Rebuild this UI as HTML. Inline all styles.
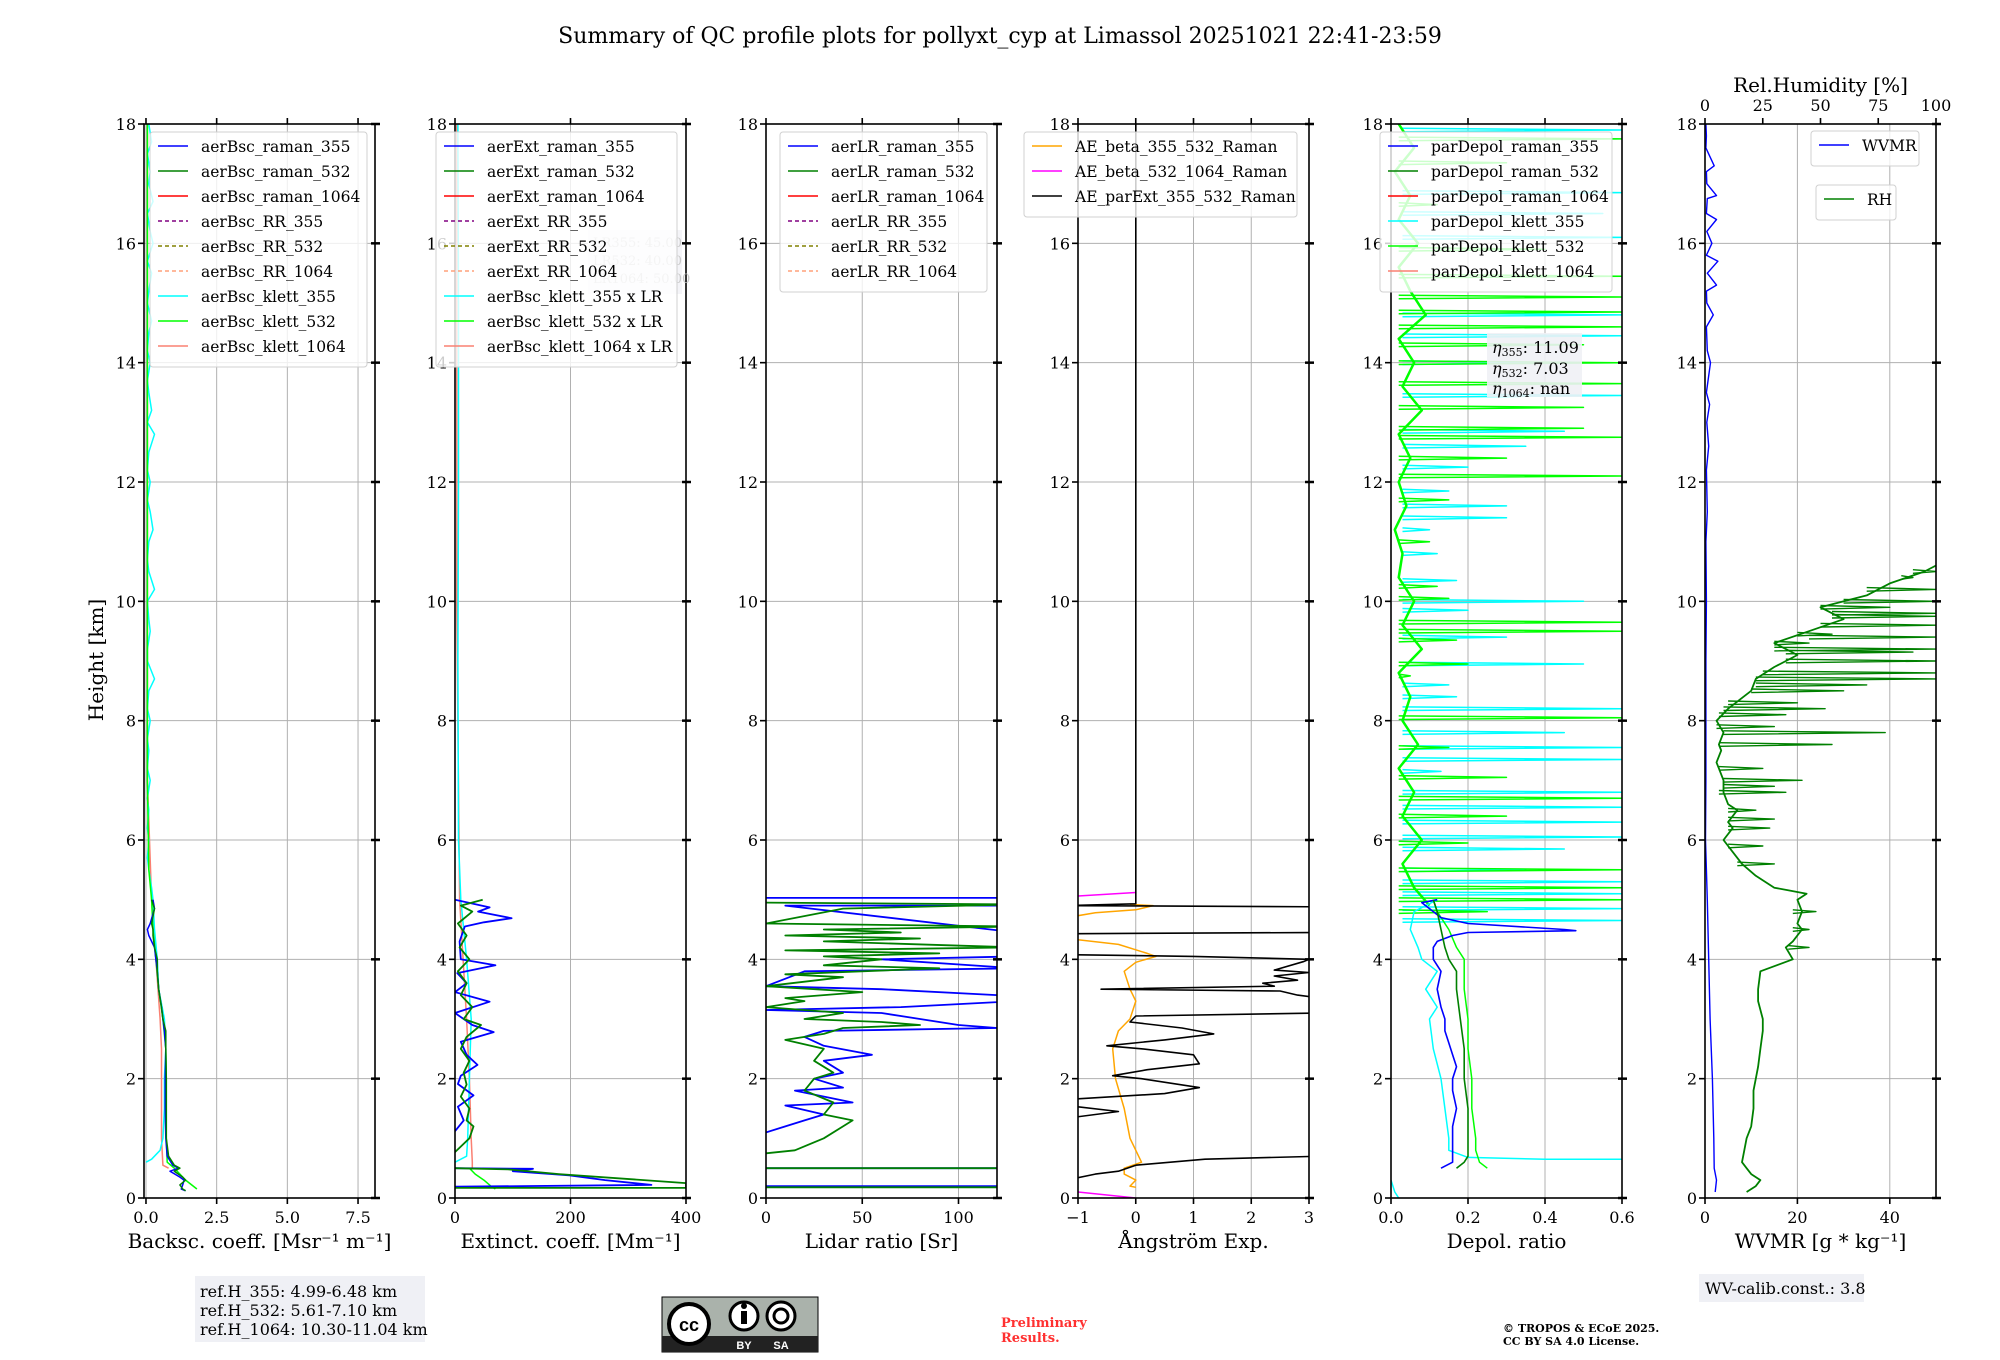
<!DOCTYPE html>
<html><head><meta charset="utf-8">
<style>
html,body{margin:0;padding:0;background:#fff;}
svg{display:block;font-family:"DejaVu Serif","Liberation Serif",serif;}
</style></head>
<body>
<svg id="fig" width="2000" height="1360" viewBox="0 0 2000 1360" xmlns="http://www.w3.org/2000/svg">
<text x="1000" y="43" font-size="22" text-anchor="middle" fill="#000">Summary of QC profile plots for pollyxt_cyp at Limassol 20251021 22:41-23:59</text>
<text transform="translate(103,660) rotate(-90)" font-size="20" text-anchor="middle">Height [km]</text>
<g id="panels"></g>
<g>
<rect x="195" y="1276" width="230" height="66" fill="#eff0f5"/>
<text x="200" y="1297" font-size="16">ref.H_355: 4.99-6.48 km</text>
<text x="200" y="1316" font-size="16">ref.H_532: 5.61-7.10 km</text>
<text x="200" y="1335" font-size="16">ref.H_1064: 10.30-11.04 km</text>
</g>
<g>
<rect x="662" y="1297" width="156" height="55" fill="#aab2ab" stroke="#000" stroke-width="1"/>
<rect x="662" y="1336" width="156" height="16" fill="#222"/>
<circle cx="689" cy="1324" r="20" fill="#fff" stroke="#000" stroke-width="4"/>
<text x="689" y="1331" font-size="18" font-weight="bold" text-anchor="middle" font-family="Liberation Sans,sans-serif">cc</text>
<circle cx="744" cy="1316" r="14" fill="#fff" stroke="#000" stroke-width="3"/>
<rect x="741" y="1311" width="6" height="13" fill="#000"/><circle cx="744" cy="1306" r="3" fill="#000"/>
<circle cx="781" cy="1316" r="14" fill="#fff" stroke="#000" stroke-width="3"/>
<circle cx="781" cy="1316" r="7" fill="none" stroke="#000" stroke-width="3"/>
<text x="744" y="1349" font-size="11" font-weight="bold" fill="#fff" text-anchor="middle" font-family="Liberation Sans,sans-serif">BY</text>
<text x="781" y="1349" font-size="11" font-weight="bold" fill="#fff" text-anchor="middle" font-family="Liberation Sans,sans-serif">SA</text>
</g>
<text x="1001" y="1327" font-size="13" font-weight="bold" fill="#ff3030">Preliminary</text>
<text x="1001" y="1342" font-size="13" font-weight="bold" fill="#ff3030">Results.</text>
<text x="1503" y="1332" font-size="11" font-weight="bold">© TROPOS &amp; ECoE 2025.</text>
<text x="1503" y="1345" font-size="11" font-weight="bold">CC BY SA 4.0 License.</text>
<g>
<rect x="1699" y="1274" width="165" height="28" fill="#eff0f5"/>
<text x="1705" y="1294" font-size="16">WV-calib.const.: 3.8</text>
</g>
</svg>
<script>
// ---------- data ----------
const yTicks=[0,2,4,6,8,10,12,14,16,18];
const bscTicks=[0,2.5,5,7.5];const bscTickLabels=["0.0","2.5","5.0","7.5"];
const extTicks=[0,200,400];const extTickLabels=["0","200","400"];
const lrTicks=[0,50,100];const lrTickLabels=["0","50","100"];
const aeTicks=[-1,0,1,2,3];const aeTickLabels=["\u22121","0","1","2","3"];
const dpTicks=[0,0.2,0.4,0.6];const dpTickLabels=["0.0","0.2","0.4","0.6"];
const wvTicks=[0,20,40];const wvTickLabels=["0","20","40"];
const rhTicks=[0,25,50,75,100];const rhTickLabels=["0","25","50","75","100"];

// panel 1 backscatter
const bscH355=[5.0,4.85,4.6,4.5,4.4,4.2,4.0,3.8,3.5,3.2,3.0,2.8,2.5,2.0,1.5,1.0,0.7,0.55,0.5,0.45,0.35,0.3,0.22,0.15,0.12];
const bscV355=[0.25,0.3,0.15,0.05,0.1,0.3,0.35,0.4,0.45,0.55,0.6,0.65,0.7,0.68,0.68,0.7,0.75,0.95,1.15,0.85,1.2,1.35,1.3,1.25,1.4];
const bscV532=[0.2,0.3,0.2,0.25,0.25,0.3,0.4,0.4,0.45,0.55,0.6,0.7,0.7,0.72,0.72,0.72,0.8,1.0,1.2,1.0,1.3,1.4,1.2,1.3,1.4];
const bscKH355=[18,17.7,17.5,17.2,17,16.7,16.5,16.2,16,15.7,15.5,15.2,15,14.7,14.5,14.2,14,13.7,13.5,13.2,13,12.8,12.5,12.2,12,11.7,11.5,11.2,11,10.7,10.5,10.2,10,9.7,9.5,9.2,9,8.7,8.5,8.2,8,7.7,7.5,7.2,7,6.7,6.5,6.2,6,5.7,5.5,5.2,5,4.5,4,3.5,3,2.5,2,1.5,1.0,0.8,0.65,0.6];
const bscKV355=[0.1,0.2,0.05,0.15,0.1,0.25,0.05,0.15,0.25,0.05,0.2,0.1,0.05,0.2,0.1,0.05,0.15,0.05,0.1,0.2,0.05,0.3,0.1,0.05,0.15,0.05,0.15,0.25,0.1,0.05,0.1,0.3,0.05,0.1,0.15,0.05,0.05,0.3,0.1,0.05,0.15,0.05,0.1,0.05,0.15,0.05,0.1,0.05,0.1,0.05,0.1,0.2,0.25,0.3,0.4,0.45,0.65,0.7,0.65,0.65,0.6,0.5,0.2,0.0];
const bscKH532=[18,15,12,9,7,5.5,5.0,4.5,4.0,3.5,3.0,2.5,2.0,1.0,0.6,0.5,0.3,0.15];
const bscKV532=[0.05,0.05,0.05,0.05,0.05,0.1,0.2,0.25,0.35,0.45,0.6,0.7,0.72,0.72,0.75,1.0,1.4,1.8];
const bscKH1064=[18,14,10,7,5,4,3,2.5,2,1.0,0.55,0.5];
const bscKV1064=[0.05,0.05,0.05,0.05,0.2,0.35,0.5,0.55,0.55,0.55,0.6,0.8];

// panel 2 extinction
const extH355=[5.0,4.87,4.8,4.69,4.62,4.55,4.3,4.0,3.9,3.77,3.6,3.45,3.29,3.1,2.9,2.78,2.62,2.4,2.23,2.05,1.91,1.72,1.53,1.3,1.12,NaN,0.5,0.49,0.45,0.38,0.3,0.22,0.19];
const extV355=[0,60,40,98,50,17,8,10,70,4,20,0,60,0,30,67,10,20,39,10,5,32,5,15,0,NaN,0,135,100,198,260,340,0];
const extH532=[5.0,4.9,4.8,4.6,4.4,4.2,4.0,3.8,3.6,3.4,3.2,3.0,2.9,2.7,2.5,2.3,2.1,1.9,1.7,1.5,1.3,1.2,1.0,0.77,NaN,0.5,0.48,0.4,0.25,0.2,0.17,0.17];
const extV532=[48,10,30,5,20,8,25,5,20,10,30,15,45,20,10,25,15,20,10,25,20,32,25,0,NaN,0,92,180,400,400,400,0];
const extKH355=[18,15,12,9,6,5,4,3,2,1,0.7,0.6];
const extKV355=[5,6,6,5,6,10,20,28,25,22,20,0];
const extKH532=[0.5,0.4,0.3,0.2,0.15];
const extKV532=[25,35,50,62,70];
const extKH1064=[18,10,5,3,2,1,0.6,0.5];
const extKV1064=[3,3,8,20,25,28,30,30];

// panel 3 lidar ratio
const lrH355=[5.03,5.03,4.9,4.9,4.45,4.43,4.05,4.0,3.85,3.8,3.55,3.5,3.4,3.3,3.2,3.15,3.1,3.0,2.9,2.85,2.8,2.7,2.55,2.4,2.3,2.1,2.0,1.85,1.8,1.6,1.55,1.4,1.3,1.2,1.1,NaN,0.5,0.5,NaN,0.2,0.2];
const lrV355=[0,130,130,10,130,130,130,60,130,20,0,60,120,130,70,0,60,80,100,120,30,20,30,55,30,40,25,40,15,45,10,30,20,10,0,NaN,0,130,NaN,0,130];
const lrH532=[4.95,4.92,4.85,4.6,4.55,4.5,4.45,4.4,4.35,4.3,4.2,4.15,4.1,4.05,4.0,3.9,3.85,3.75,3.7,3.55,3.45,3.35,3.3,3.2,3.1,3.0,2.95,2.9,2.85,2.75,2.65,2.5,2.3,2.1,2.0,1.8,1.6,1.4,1.3,1.2,1.0,0.8,0.75,NaN,0.5,0.5,0.45,NaN,0.18,0.18];
const lrV532=[0,130,40,0,130,30,70,10,80,30,130,10,90,30,60,30,90,10,40,0,50,10,20,0,40,20,60,80,40,30,10,30,25,35,25,20,35,30,45,40,30,15,0,NaN,0,130,130,NaN,0,130];

// panel 4 angstrom
const aeParH=[18,4.93,4.9,4.88,4.45,4.43,4.08,4.05,4.0,3.96,3.82,3.78,3.72,3.65,3.6,3.55,3.5,3.47,3.4,3.35,3.1,3.05,2.95,2.85,2.75,2.65,2.55,2.5,2.4,2.25,2.15,2.05,2.0,1.85,1.75,1.65,1.55,1.45,1.35,1.3,NaN,0.7,0.65,0.55,0.45,0.4,0.3];
const aeParV=[0,0,-1.2,3.2,3.2,-1.2,-1.2,1.0,3.0,2.9,2.4,3.0,2.4,2.8,2.2,2.4,-0.6,2.5,2.8,3.2,3.2,0.0,-0.1,0.8,1.35,0.5,-0.5,0.1,1.0,1.1,0.2,-0.4,0.1,1.1,0.5,-1.2,-1.2,-0.3,-1.1,-1.2,NaN,3.2,1.2,0.0,-0.3,-0.7,-1.2];
const aeB355H=[4.92,4.9,4.83,4.78,4.7,NaN,4.35,4.25,4.1,4.05,3.95,3.8,3.5,3.3,3.0,2.8,2.5,2.0,1.5,1.0,0.8,0.6,0.5,0.4,0.3,0.2,0.18];
const aeB355V=[-0.1,0.3,0.0,-0.7,-1.2,NaN,-1.2,-0.3,0.2,0.35,0.0,-0.2,-0.1,0.0,-0.1,-0.3,-0.4,-0.35,-0.2,-0.1,0.0,0.1,-0.2,-0.2,0.0,-0.1,0.0];
const aeB532H=[5.12,5.05,NaN,0.12,0.0];
const aeB532V=[0.0,-1.2,NaN,-1.2,0.0];

// panel 5 depol spikes (upper troposphere)
const dpK355SpikeH=[17.9,16.85,16.5,16.1,14.8,14.45,14.0,13.45,12.85,12.6,12.25,11.85,11.6,11.4,11.2,10.8,10.35,10.0,9.85,9.4,8.95,8.6,8.4,8.2,7.8,7.55,7.35,7.15,6.8,6.55,6.3,6.05,5.85,5.5,5.3,5.1,4.85,4.65];
const dpK355SpikeV=[0.6,0.6,0.55,0.6,0.6,0.6,0.45,0.6,0.45,0.35,0.2,0.15,0.3,0.3,0.1,0.12,0.17,0.5,0.2,0.3,0.5,0.15,0.17,0.6,0.45,0.6,0.6,0.13,0.6,0.6,0.6,0.6,0.45,0.35,0.6,0.6,0.6,0.6];
const dpK532SpikeH=[17.75,17.35,16.65,15.9,15.45,15.1,14.85,14.6,14.3,14.0,13.65,13.25,12.9,12.75,12.4,12.1,11.7,11.0,10.25,10.05,9.65,9.5,9.35,8.95,8.75,8.05,7.55,7.05,6.7,6.4,5.95,5.5,5.2,5.0,4.8];
const dpK532SpikeV=[0.6,0.3,0.12,0.4,0.6,0.6,0.6,0.6,0.5,0.6,0.6,0.5,0.5,0.6,0.3,0.6,0.15,0.1,0.12,0.15,0.6,0.6,0.17,0.2,0.05,0.6,0.15,0.3,0.6,0.3,0.2,0.6,0.6,0.6,0.25];
const dpK532BaseH=[18,17.6,17.2,16.8,16.4,16,15.6,15.2,14.8,14.4,14,13.6,13.2,12.8,12.4,12,11.6,11.2,10.8,10.4,10,9.6,9.2,8.8,8.4,8,7.6,7.2,6.8,6.4,6,5.6,5.2,4.9];
const dpK532BaseV=[0.02,0.06,0.01,0.05,0.02,0.07,0.02,0.05,0.09,0.02,0.06,0.03,0.08,0.02,0.05,0.02,0.04,0.01,0.03,0.02,0.06,0.03,0.08,0.02,0.05,0.03,0.07,0.02,0.06,0.03,0.08,0.03,0.06,0.1];
const dpR355H=[5.0,4.95,4.8,4.7,4.6,4.5,4.48,4.45,4.4,4.3,4.2,4.0,3.8,3.5,3.2,3.0,2.8,2.6,2.4,2.2,2.0,1.8,1.5,1.2,1.0,0.8,0.6,0.5];
const dpR355V=[0.12,0.08,0.11,0.13,0.2,0.45,0.48,0.2,0.16,0.12,0.11,0.11,0.13,0.12,0.13,0.14,0.14,0.15,0.16,0.17,0.16,0.16,0.17,0.16,0.16,0.16,0.16,0.13];
const dpR532H=[5.0,4.8,4.5,4.2,4.0,3.8,3.5,3.0,2.5,2.0,1.5,1.0,0.7,0.6,0.5];
const dpR532V=[0.11,0.12,0.13,0.14,0.15,0.17,0.17,0.18,0.19,0.19,0.2,0.2,0.2,0.19,0.17];
const dpK355H=[5.0,4.8,4.5,4.2,4.0,3.8,3.5,3.2,3.0,2.5,2.0,1.5,1.0,0.8,0.68,0.65,0.65,NaN,0.3,0.1,0.0];
const dpK355V=[0.12,0.06,0.05,0.07,0.08,0.12,0.09,0.12,0.1,0.11,0.13,0.14,0.15,0.15,0.2,0.4,0.6,NaN,0.0,0.01,0.02];
const dpK532H=[5.0,4.8,4.5,4.2,4.0,3.5,3.0,2.5,2.0,1.5,1.0,0.8,0.6,0.5];
const dpK532V=[0.11,0.12,0.15,0.17,0.19,0.19,0.2,0.2,0.21,0.21,0.22,0.22,0.23,0.25];

// panel 6 water vapour
const wvH=[18,17.8,17.6,17.3,17.2,17.0,16.8,16.75,16.5,16.4,16.2,16.0,15.8,15.7,15.5,15.3,15.2,15.0,14.8,14.6,14.2,14.0,13.5,13.3,13.0,12.6,12.2,11.5,11.0,10.0,9.0,8.0,7.0,6.0,5.0,4.0,3.0,2.0,1.0,0.5,0.3,0.1];
const wvV=[0.2,0.3,0.2,2.0,0.3,0.4,2.5,0.5,0.3,2.5,0.4,1.5,0.3,2.8,0.5,2.5,0.3,0.4,1.8,0.3,0.5,1.2,0.3,1.0,0.4,0.8,0.3,0.5,0.2,0.3,0.2,0.2,0.2,0.1,0.5,0.8,1.1,1.6,1.9,2.0,2.5,2.2];
const rhH=[0.1,0.2,0.3,0.4,0.5,0.6,0.8,1.0,1.2,1.5,1.8,2.0,2.2,2.5,2.8,3.0,3.3,3.5,3.8,4.0,4.2,4.3,4.5,4.6,4.8,5.0,5.1,5.2,5.4,5.6,5.8,6.0,6.2,6.3,6.5,6.6,6.8,7.0,7.2,7.3,7.5,7.6,7.8,8.0,8.2,8.5,8.7,8.9,9.1,9.3,9.5,9.7,9.9,10.1,10.3,10.5,10.6];
const rhV=[18,22,24,20,18,16,17,18,20,21,21,22,23,24,25,25,23,23,24,38,35,38,42,40,42,40,44,30,22,16,12,8,12,10,14,10,8,8,6,5,7,6,8,5,10,20,22,30,40,30,45,60,50,70,80,95,100];
const rhSpikeH=[7.8,7.6,7.0,6.8,6.5,6.2,8.2,8.5,8.7,8.8,9.0,9.2,9.4,9.6,9.8,10.0,10.2,10.5,9.3,8.1,9.45,4.8,4.5,4.2,8.3,8.6,9.15,7.9,7.2,6.9,6.35,5.9,5.6,9.75,9.9,10.4];
const rhSpikeV=[78,55,42,35,22,28,52,60,100,100,100,100,100,100,100,100,100,100,45,35,55,48,45,45,40,70,90,30,25,30,30,25,30,100,80,90];
const rhSpikeBase=[8,6,8,6,10,10,8,20,22,25,35,30,45,50,55,60,70,90,30,6,40,38,38,36,10,22,35,5,6,8,10,10,14,55,50,85];

// ---------- drawing ----------
const NS="http://www.w3.org/2000/svg";
const svg=document.getElementById('fig');
const panelsG=document.getElementById('panels');
const TOP=124,BOT=1198,W=231;
const lefts=[144,455,766,1078,1391,1705];
const xlims=[[-0.07,8.1],[0,400],[0,120],[-1,3],[0,0.6],[0,50]];
function mk(tag,attrs,parent){const e=document.createElementNS(NS,tag);for(const k in attrs)e.setAttribute(k,attrs[k]);(parent||svg).appendChild(e);return e;}
function yS(h){return BOT-(h/18)*(BOT-TOP);}
function xS(p,v){const l=xlims[p];return lefts[p]+(v-l[0])/(l[1]-l[0])*W;}
function pathD(p,hs,vs,xf){let d="",pen=false;for(let i=0;i<hs.length;i++){if(isNaN(hs[i])||isNaN(vs[i])){pen=false;continue;}const x=xf?xf(vs[i]):xS(p,vs[i]);d+=(pen?"L":"M")+x.toFixed(1)+" "+yS(hs[i]).toFixed(1);pen=true;}return d;}
function series(g,p,hs,vs,color,w,name,xf){const e=mk('path',{d:pathD(p,hs,vs,xf),fill:'none',stroke:color,'stroke-width':w,'stroke-linejoin':'round','clip-path':'url(#clip'+p+')'},g);


return e;}
function spikes(g,p,hs,vs,base,color,w,name,xf){let H=[],V=[];for(let i=0;i<hs.length;i++){const b=Array.isArray(base)?base[i]:base;H.push(hs[i]+0.03,hs[i],hs[i]-0.03,NaN);V.push(b,vs[i],b,NaN);}return series(g,p,H,V,color,w,name,xf);}

const defs=mk('defs',{});
const xTickSets=[[bscTicks,bscTickLabels],[extTicks,extTickLabels],[lrTicks,lrTickLabels],[aeTicks,aeTickLabels],[dpTicks,dpTickLabels],[wvTicks,wvTickLabels]];
const xTitles=["Backsc. coeff. [Msr\u207B\u00B9 m\u207B\u00B9]","Extinct. coeff. [Mm\u207B\u00B9]","Lidar ratio [Sr]","\u00C5ngstr\u00F6m Exp.","Depol. ratio","WVMR [g * kg\u207B\u00B9]"];
const panelNames=["backscatter-panel","extinction-panel","lidar-ratio-panel","angstrom-panel","depol-panel","water-vapor-panel"];
const G=[];
for(let p=0;p<6;p++){
  const cp=mk('clipPath',{id:'clip'+p},defs);mk('rect',{x:lefts[p],y:TOP,width:W,height:BOT-TOP},cp);
  const g=mk('g',{},panelsG);
  
  
  G.push(g);
  const grid=mk('g',{stroke:'#b0b0b0','stroke-width':1},g);
  
  
  for(const t of yTicks){mk('line',{x1:lefts[p],x2:lefts[p]+W,y1:yS(t),y2:yS(t)},grid);}
  for(const t of xTickSets[p][0]){const x=xS(p,t);mk('line',{x1:x,x2:x,y1:TOP,y2:BOT},grid);}
}
function frame(p){
  const g=G[p];
  const ax=mk('g',{stroke:'#000','stroke-width':1.6,fill:'none'},g);
  
  
  mk('rect',{x:lefts[p],y:TOP,width:W,height:BOT-TOP},ax);
  const lab=mk('g',{'font-size':16,fill:'#000'},g);
  
  
  for(const t of yTicks){const y=yS(t);
    mk('line',{x1:lefts[p]-6,x2:lefts[p],y1:y,y2:y},ax);
    mk('line',{x1:lefts[p]+W-4,x2:lefts[p]+W+5,y1:y,y2:y,'stroke-width':2.5},ax);
    const tx=mk('text',{x:lefts[p]-8,y:y+6,'text-anchor':'end'},lab);tx.textContent=t;}
  const ts=xTickSets[p];
  ts[0].forEach((t,i)=>{const x=xS(p,t);
    mk('line',{x1:x,x2:x,y1:BOT,y2:BOT+6},ax);
    if(p<5)mk('line',{x1:x,x2:x,y1:TOP,y2:TOP-6},ax);
    const tx=mk('text',{x:x,y:BOT+25,'text-anchor':'middle'},lab);tx.textContent=ts[1][i];});
  const xt=mk('text',{x:lefts[p]+W/2,y:BOT+50,'text-anchor':'middle','font-size':20},g);
  
  
  xt.textContent=xTitles[p];
}
function legend(p,x,y,w,entries,spacing,name){
  const g=mk('g',{},G[p]);
  
  
  mk('rect',{x:x,y:y,width:w,height:entries.length*spacing+10,rx:3,fill:'rgba(255,255,255,0.8)',stroke:'#d0d0d0'},g);
  entries.forEach((e,i)=>{const yy=y+14+i*spacing;
    const ln=mk('line',{x1:x+8,x2:x+38,y1:yy,y2:yy,stroke:e[1],'stroke-width':e[2]||1.6},g);
    if(e[3])ln.setAttribute('stroke-dasharray','4 3');
    const t=mk('text',{x:x+51,y:yy+6,'font-size':15.5},g);t.textContent=e[0];
  });
}
// panel 1
{const g=G[0];
series(g,0,bscKH1064,bscKV1064,'#fa8072',1.5,'aerBsc-klett-1064-line');
series(g,0,bscKH355,bscKV355,'#00ffff',1.5,'aerBsc-klett-355-line');
series(g,0,bscKH532,bscKV532,'#00ff00',1.5,'aerBsc-klett-532-line');
series(g,0,bscH355,bscV355,'#0000ff',1.5,'aerBsc-raman-355-line');
series(g,0,bscH355,bscV532,'#008000',1.5,'aerBsc-raman-532-line');
frame(0);
legend(0,150,132,217,[["aerBsc_raman_355","#0000ff"],["aerBsc_raman_532","#008000"],["aerBsc_raman_1064","#ff0000"],["aerBsc_RR_355","#800080",1.6,1],["aerBsc_RR_532","#808000",1.6,1],["aerBsc_RR_1064","#ffa07a",1.6,1],["aerBsc_klett_355","#00ffff"],["aerBsc_klett_532","#00ff00"],["aerBsc_klett_1064","#fa8072"]],25,'backscatter-legend');}
// panel 2
{const g=G[1];
series(g,1,extKH1064,extKV1064,'#fa8072',1.5,'aerBsc-klett-1064-x-lr-line');
series(g,1,extKH355,extKV355,'#00ffff',1.5,'aerBsc-klett-355-x-lr-line');
series(g,1,extKH532,extKV532,'#00ff00',1.5,'aerBsc-klett-532-x-lr-line');
series(g,1,extH355,extV355,'#0000ff',1.8,'aerExt-raman-355-line');
series(g,1,extH532,extV532,'#008000',1.8,'aerExt-raman-532-line');
frame(1);
const lb=mk('g',{fill:'#c8c8c8','font-size':13},g);


mk('rect',{x:588,y:230,width:94,height:64,fill:'#f4f4f8'},lb);
[["LR355: 45.00",247],["LR532: 40.00",265],["LR1064: 50.00",283]].forEach(a=>{const t=mk('text',{x:593,y:a[1]},lb);t.textContent=a[0];});
legend(1,436,132,241,[["aerExt_raman_355","#0000ff"],["aerExt_raman_532","#008000"],["aerExt_raman_1064","#ff0000"],["aerExt_RR_355","#800080",1.6,1],["aerExt_RR_532","#808000",1.6,1],["aerExt_RR_1064","#ffa07a",1.6,1],["aerBsc_klett_355 x LR","#00ffff"],["aerBsc_klett_532 x LR","#00ff00"],["aerBsc_klett_1064 x LR","#fa8072"]],25,'extinction-legend');}
// panel 3
{const g=G[2];
series(g,2,lrH355,lrV355,'#0000ff',1.8,'aerLR-raman-355-line');
series(g,2,lrH532,lrV532,'#008000',1.8,'aerLR-raman-532-line');
frame(2);
legend(2,780,132,207,[["aerLR_raman_355","#0000ff"],["aerLR_raman_532","#008000"],["aerLR_raman_1064","#ff0000"],["aerLR_RR_355","#800080",1.6,1],["aerLR_RR_532","#808000",1.6,1],["aerLR_RR_1064","#ffa07a",1.6,1]],25,'lidar-ratio-legend');}
// panel 4
{const g=G[3];
series(g,3,aeB532H,aeB532V,'#ff00ff',1.5,'ae-beta-532-1064-line');
series(g,3,aeB355H,aeB355V,'#ffa500',1.5,'ae-beta-355-532-line');
series(g,3,aeParH,aeParV,'#000000',1.6,'ae-parext-355-532-line');
frame(3);
legend(3,1024,132,273,[["AE_beta_355_532_Raman","#ffa500"],["AE_beta_532_1064_Raman","#ff00ff"],["AE_parExt_355_532_Raman","#000000"]],25,'angstrom-legend');}
// panel 5
{const g=G[4];
spikes(g,4,dpK355SpikeH,dpK355SpikeV,0.03,'#00ffff',1.5,'parDepol-klett-355-spikes');
series(g,4,dpK532BaseH,dpK532BaseV,'#00ff00',2.5,'parDepol-klett-532-baseline');
spikes(g,4,dpK532SpikeH,dpK532SpikeV,0.02,'#00ff00',1.5,'parDepol-klett-532-spikes');
series(g,4,dpK355H,dpK355V,'#00ffff',1.5,'parDepol-klett-355-line');
series(g,4,dpK532H,dpK532V,'#00ff00',1.5,'parDepol-klett-532-line');
series(g,4,dpR355H,dpR355V,'#0000ff',1.6,'parDepol-raman-355-line');
series(g,4,dpR532H,dpR532V,'#008000',1.6,'parDepol-raman-532-line');
frame(4);
legend(4,1380,132,232,[["parDepol_raman_355","#0000ff"],["parDepol_raman_532","#008000"],["parDepol_raman_1064","#ff0000"],["parDepol_klett_355","#00ffff"],["parDepol_klett_532","#00ff00"],["parDepol_klett_1064","#fa8072"]],25,'depol-legend');
const eb=mk('g',{'font-size':16},g);


mk('rect',{x:1487,y:333,width:95,height:64,fill:'rgba(240,241,245,0.9)'},eb);
[["355","11.09",353],["532","7.03",374],["1064","nan",394]].forEach(a=>{const t=mk('text',{x:1492,y:a[2]},eb);t.innerHTML='<tspan font-style="italic">\u03B7</tspan><tspan font-size="11" dy="3">'+a[0]+'</tspan><tspan dy="-3">: '+a[1]+'</tspan>';});}
// panel 6
{const g=G[5];
series(g,5,wvH,wvV,'#0000ff',1.4,'wvmr-line');
const rx=v=>lefts[5]+v/100*W;
spikes(g,5,rhSpikeH,rhSpikeV,rhSpikeBase,'#008000',1.4,'rh-spikes',rx);
series(g,5,rhH,rhV,'#008000',1.8,'rh-line',rx);
frame(5);
const tg=mk('g',{'font-size':16},g);


rhTicks.forEach((t,i)=>{const x=rx(t);mk('line',{x1:x,x2:x,y1:TOP,y2:TOP-6,stroke:'#000','stroke-width':1.6},tg);const tt=mk('text',{x:x,y:TOP-13,'text-anchor':'middle'},tg);tt.textContent=rhTickLabels[i];});
const rt=mk('text',{x:lefts[5]+W/2,y:92,'text-anchor':'middle','font-size':20},g);


rt.textContent="Rel.Humidity [%]";
legend(5,1811,131,108,[["WVMR","#0000ff"]],25,'wvmr-legend');
legend(5,1816,185,80,[["RH","#008000"]],25,'rh-legend');}
</script>
</body></html>
